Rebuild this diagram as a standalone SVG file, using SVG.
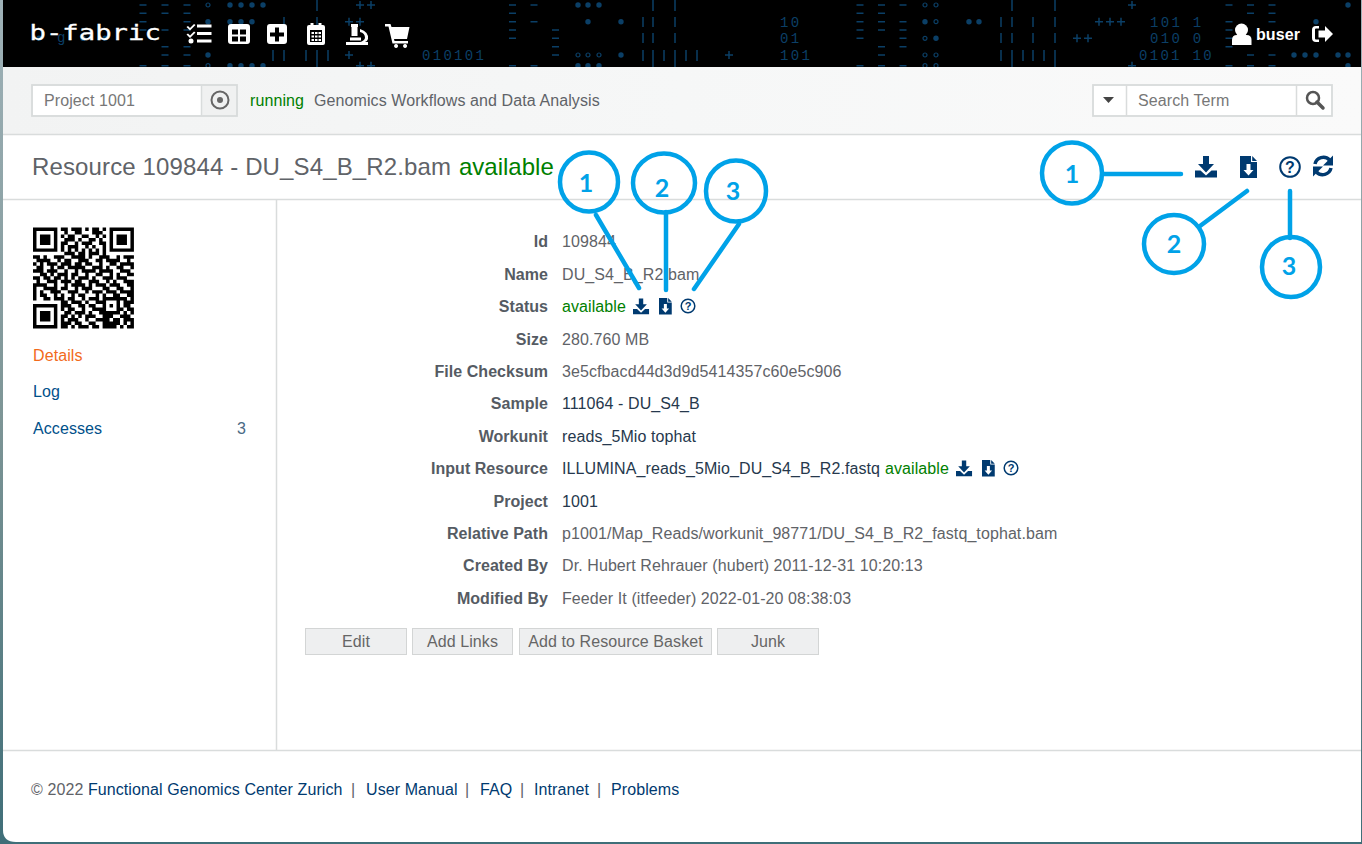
<svg xmlns="http://www.w3.org/2000/svg" width="1362" height="844" viewBox="0 0 1362 844">
<style>
text{font-family:"Liberation Sans",Arial,sans-serif;font-size:16px;fill:#5f6368;letter-spacing:.09px}
.b{font-weight:700;fill:#555b63;text-anchor:end;letter-spacing:.04px}
.g{fill:#008000}
.l{fill:#003a70}
.d{fill:#26384d}
.ln{stroke:#d9dcdc;stroke-width:1.5;fill:none}
.bx{fill:#fff;stroke:#d8dbdb;stroke-width:1.800}
.btn{fill:#eeeff0;stroke:#d3d5d5;stroke-width:1}
.bt{text-anchor:middle;fill:#666}
.c{fill:none;stroke:#00a2e8;stroke-width:4.5}
.n{font-family:Lato,"Open Sans",sans-serif;font-weight:700;font-size:25px;fill:#00a2e8;text-anchor:middle;letter-spacing:0}
.cl{stroke:#00a2e8;stroke-width:4.5;stroke-linecap:round;fill:none}
.bg{font-family:"Liberation Mono",monospace;font-size:14px;letter-spacing:2.300px;fill:#0b3f66}
.dash{stroke:#0b3f66;stroke-width:1.500;fill:none}
.w{fill:#fff}
.nv{fill:#003a70}
.o{fill:none;stroke:#0b3f66;stroke-width:1.200}
.f{fill:#0b3f66}
</style>
<defs>
<linearGradient id="edge" x1="0" y1="0" x2="0" y2="1"><stop offset="0" stop-color="#9fb2b8"/><stop offset=".5" stop-color="#7d9596"/><stop offset="1" stop-color="#3f6e78"/></linearGradient>
<linearGradient id="bar" x1="0" y1="0" x2="1" y2="0"><stop offset="0" stop-color="#f2f3f3"/><stop offset=".5" stop-color="#f6f7f7"/><stop offset="1" stop-color="#fafafa"/></linearGradient>
<g id="dl"><path d="M8 0h6v8h5l-8 8.500-8-8.500h5zM0 14.500h5.500l5.500 5 5.500-5H22v7H0z"/></g>
<g id="fl"><path fill-rule="evenodd" d="M0 0h11v6h6v16H0zM12.200 0l4.800 5h-4.800zM6.500 8v6H3.500l5 5.500 5-5.500h-3v-6z"/></g>
<circle id="fd" r="2.700"/>
<circle id="od" r="2"/>
</defs>
<rect width="1362" height="844" fill="url(#edge)"/>
<path d="M3 67H1361V842H16Q3 842 3 830z" fill="#fff"/>
<g id="header">
<rect x="3" y="0" width="1358" height="67" fill="#000"/>
<path class="dash" d="M139.500 5h7M161.500 5h7M183.500 5h7M139.500 13.300h7M161.500 13.300h7M183.500 13.300h7M139.500 21.700h7M183.500 21.700h7M139.500 30h7M161.500 30h7M183.500 30h7M161.500 46.700h7M183.500 46.700h7M161.500 55h7M183.500 55h7M139.500 65.700h7M161.500 65.700h7M183.500 65.700h7
M509 5h7M530.500 5h7M509 13.300h7M509 21.700h7M530.500 21.700h7M509 30h7M552 30h7M509 38.300h7M552 38.300h7M552 46.700h7M552 55h7M509 65.700h7M530.500 65.700h7
M856.500 5h7M878 5h7M899.500 5h7M856.500 13.300h7M878 13.300h7M856.500 21.700h7M878 21.700h7M899.500 21.700h7M856.500 30h7M878 30h7M899.500 30h7M856.500 38.300h7M899.500 38.300h7M878 46.700h7M899.500 46.700h7M878 55h7M856.500 65.700h7M878 65.700h7M899.500 65.700h7
M1225.500 5h7M1247 5h7M1268.500 5h7M1247 13.300h7M1268.500 13.300h7M1225.500 21.700h7M1268.500 21.700h7M1225.500 30h7M1225.500 38.300h7M1225.500 46.700h7M1247 55h7M1268.500 55h7M1225.500 65.700h7M1247 65.700h7M1268.500 65.700h7"/>
<path class="dash" d="M317 0v11M284 17v10M317 17v10M273 50v11M284 50v11M306 50v11M317 50v11M328 50v11M317 61v6
M653 0v11M675 0v11M643 17v10M653 17v10M675 17v10M643 33v10M653 33v10M675 33v10M643 50v11M653 50v11M664 50v11M675 50v11M653 61v6M675 61v6
M686 50v11M697 50v11M1012 0v11M1001 17v10M1012 17v10M1001 33v10M1012 33v10M1001 50v11M1012 50v11M1012 61v6
M1033 17v10M1055 0v11M1055 17v10M1033 33v10M1055 33v10M1023 50v11M1033 50v11M1044 50v11M1055 50v11M1055 61v6
M356 5h8M360 1v8M367 5h8M371 1v8M345 21.700h8M349 17.700v8M356 21.700h8M360 17.700v8M345 55h8M349 51v8M356 65.700h8M360 61.700v5.300M367 65.700h8M371 61.700v5.300
M725 55h8M729 51v8M1128 5h8M1132 1v8M1095 21.700h8M1099 17.700v8M1106 21.700h8M1110 17.700v8M1117 21.700h8M1121 17.700v8M1073 38.300h8M1077 34.300v8M1084 38.300h8M1088 34.300v8M1128 65.700h8M1132 61.700v5.300"/>
<g class="f">
<use href="#fd" x="230" y="5"/><use href="#fd" x="241" y="5"/><use href="#fd" x="252" y="5"/><use href="#fd" x="263" y="5"/>
<use href="#fd" x="208" y="21.700"/><use href="#fd" x="230" y="21.700"/><use href="#fd" x="241" y="21.700"/><use href="#fd" x="252" y="21.700"/>
<use href="#fd" x="208" y="55"/><use href="#fd" x="230" y="65.700"/><use href="#fd" x="241" y="65.700"/><use href="#fd" x="252" y="65.700"/><use href="#fd" x="263" y="65.700"/>
<use href="#fd" x="83" y="38.300"/><use href="#fd" x="105" y="38.300"/><use href="#fd" x="39" y="38.300"/>
<use href="#fd" x="578" y="5"/><use href="#fd" x="588" y="5"/><use href="#fd" x="599" y="5"/><use href="#fd" x="588" y="21.700"/><use href="#fd" x="621" y="21.700"/><use href="#fd" x="621" y="55"/>
<use href="#fd" x="578" y="65.700"/><use href="#fd" x="588" y="65.700"/><use href="#fd" x="599" y="65.700"/>
<use href="#fd" x="925" y="21.700"/><use href="#fd" x="936" y="38.300"/><use href="#fd" x="969" y="21.700"/><use href="#fd" x="979" y="21.700"/>
<use href="#fd" x="1348" y="5"/><use href="#fd" x="1316" y="21.700"/><use href="#fd" x="1294" y="55"/><use href="#fd" x="1305" y="55"/><use href="#fd" x="1316" y="55"/><use href="#fd" x="1338" y="55"/><use href="#fd" x="1348" y="55"/><use href="#fd" x="1348" y="65.700"/>
</g>
<g class="o">
<use href="#od" x="208" y="5"/><use href="#od" x="208" y="65.700"/>
<use href="#od" x="578" y="55"/><use href="#od" x="588" y="55"/><use href="#od" x="599" y="55"/>
<use href="#od" x="925" y="5"/><use href="#od" x="936" y="5"/><use href="#od" x="936" y="21.700"/><use href="#od" x="925" y="38.300"/><use href="#od" x="925" y="55"/><use href="#od" x="936" y="55"/><use href="#od" x="925" y="65.700"/><use href="#od" x="936" y="65.700"/>
</g>
<text class="bg" x="422" y="59.500">010101</text>
<text class="bg" x="780" y="26.500">10</text>
<text class="bg" x="780" y="43">01</text>
<text class="bg" x="780" y="59.500">101</text>
<text class="bg" x="1150" y="26.500">101 1</text>
<text class="bg" x="1150" y="43">010 0</text>
<text class="bg" x="1139" y="59.500">0101 10</text>
<text class="bg" x="57" y="42">g</text>
<text transform="translate(29.500 39.500) scale(1.240 1)" style="font-family:'DejaVu Sans Mono',monospace;font-size:22px;letter-spacing:0;fill:#fff;stroke:#fff;stroke-width:.3">b-fabric</text>
<g id="nav-icons" class="w">
<path d="M197 24.500h14.500v3h-14.500zM197 32h14.500v3h-14.500zM197 39.500h14.500v3h-14.500zM188 26l2 2 4-4 1.500 1-5.500 5.500-3.500-3.500zM188 33.500l2 2 4-4 1.500 1-5.500 5.500-3.500-3.500z"/><circle cx="191" cy="41" r="2.500"/>
<path fill-rule="evenodd" d="M231 24h16q3 0 3 3v14q0 3-3 3h-16q-3 0-3-3v-14q0-3 3-3zM232 29.500v5h6v-5zM240 29.500v5h6v-5zM232 36.500v5h6v-5zM240 36.500v5h6v-5z"/>
<path fill-rule="evenodd" d="M270 24h14q3 0 3 3v14q0 3-3 3h-14q-3 0-3-3v-14q0-3 3-3zM275 27.500v5h-5v4h5v5h4v-5h5v-4h-5v-5z"/>
<path fill-rule="evenodd" d="M309 25h1.500v-2h3v2h5v-2h3v2h1.500q2 0 2 2v16q0 2-2 2h-14q-2 0-2-2v-16q0-2 2-2zM310 30v12h12v-12zM311.500 32h2.500v2h-2.500zM315 32h2.500v2h-2.500zM318.500 32h2.500v2h-2.500zM311.500 35.500h2.500v2h-2.500zM315 35.500h2.500v2h-2.500zM318.500 35.500h2.500v2h-2.500zM311.500 39h2.500v2h-2.500zM315 39h2.500v2h-2.500zM318.500 39h2.500v2h-2.500z"/>
<path d="M346 42h22v3h-22zM351 24h7v3h-.500v9h-6v-9h-.500zM360 29q9 3 8 10q-1 3-3 3h-5q4-1 5-4q0-5-5-6zM350 37.500h11v3h-11z"/>
<path d="M385 24h5.500l1 3h18l-2.500 12h-13l.5 2h13.500v2.500h-15.500l-4-17h-3.500zM396 44a2 2 0 1 0 .1 0zM405 44a2 2 0 1 0 .1 0z"/>
</g>
<g id="user">
<circle class="w" cx="1241.500" cy="30" r="6.500"/>
<path class="w" d="M1232 45v-5q0-5 5-5h9.500q5 0 5 5v5z"/>
<text x="1256" y="40" style="font-weight:700;fill:#fff">buser</text>
<path class="w" fill-rule="evenodd" d="M1319 26v2.500h-3q-1 0-1 1v9q0 1 1 1h3v2.500h-3q-4 0-4-4v-8q0-4 4-4zM1325 26l8 8-8 8v-4.500h-6.500v-7h6.500z"/>
</g>
</g>
<g id="toolbar">
<rect x="3" y="67" width="1358" height="67" fill="url(#bar)"/>
<path class="ln" d="M3 134.500H1361"/>
<g id="project-select">
<rect class="bx" x="32" y="85" width="205" height="31" style="fill:#f0f1f1"/>
<rect x="33" y="86" width="168" height="29" fill="#fff"/>
<path class="ln" d="M201.500 85v31"/>
<text x="44" y="106" style="fill:#777">Project 1001</text>
<circle cx="220" cy="100" r="8.500" fill="none" stroke="#666" stroke-width="2"/><circle cx="220" cy="100" r="3" fill="#666"/>
</g>
<text class="g" x="250" y="106">running</text>
<text x="314" y="106">Genomics Workflows and Data Analysis</text>
<g id="search">
<rect class="bx" x="1093" y="85" width="239" height="31"/>
<path class="ln" d="M1126.500 85v31M1296.500 85v31"/>
<path d="M1103 97h11l-5.500 6z" fill="#444"/>
<text x="1138" y="106" style="fill:#777">Search Term</text>
<circle cx="1313" cy="98" r="6" fill="none" stroke="#555" stroke-width="2.500"/><path d="M1317 102l6 6" stroke="#555" stroke-width="3.500" stroke-linecap="round"/>
</g>
</g>
<g id="title">
<text x="32" y="175" style="font-size:24px;letter-spacing:.13px">Resource 109844 - DU_S4_B_R2.bam</text>
<text class="g" x="459" y="175" style="font-size:24px;letter-spacing:0">available</text>
<path class="ln" d="M3 199.500H1361"/>
<g id="title-icons" class="nv">
<use href="#dl" x="1195" y="156"/>
<use href="#fl" x="1240" y="156"/>
<circle cx="1290" cy="167" r="9.800" fill="none" stroke="#003a70" stroke-width="2"/>
<text x="1290" y="173" text-anchor="middle" style="font-size:16px;font-weight:700;fill:#003a70;letter-spacing:0">?</text>
<path d="M1315 164a8.500 8.500 0 0 1 14.500-4" fill="none" stroke="#003a70" stroke-width="3.500"/><path d="M1333 155.500v10h-10z"/>
<path d="M1331 168a8.500 8.500 0 0 1-14.500 4" fill="none" stroke="#003a70" stroke-width="3.500"/><path d="M1313 176.500v-10h10z"/>
</g>
</g>
<g id="sidebar">
<path class="ln" d="M276.500 199v551"/>
<g transform="translate(33 227.500) scale(3.480)"><path stroke="#000" stroke-width="1" fill="none" d="M0 .5h7M8 .5h2M11 .5h3M15 .5h1M17 .5h2M20 .5h1M22 .5h7
M0 1.500h1M6 1.500h1M9 1.500h1M12 1.500h2M17 1.500h3M22 1.500h1M28 1.500h1
M0 2.500h1M2 2.500h3M6 2.500h1M8 2.500h1M10 2.500h2M14 2.500h2M18 2.500h1M20 2.500h1M22 2.500h1M24 2.500h3M28 2.500h1
M0 3.500h1M2 3.500h3M6 3.500h1M9 3.500h3M13 3.500h1M16 3.500h2M19 3.500h1M22 3.500h1M24 3.500h3M28 3.500h1
M0 4.500h1M2 4.500h3M6 4.500h1M8 4.500h2M12 4.500h1M14 4.500h3M19 4.500h2M22 4.500h1M24 4.500h3M28 4.500h1
M0 5.500h1M6 5.500h1M8 5.500h1M10 5.500h3M15 5.500h1M17 5.500h1M20 5.500h1M22 5.500h1M28 5.500h1
M0 6.500h7M8 6.500h1M10 6.500h1M12 6.500h1M14 6.500h1M16 6.500h1M18 6.500h1M20 6.500h1M22 6.500h7
M9 7.500h3M13 7.500h2M16 7.500h3M20 7.500h1
M0 8.500h2M3 8.500h1M6 8.500h3M11 8.500h4M16 8.500h1M19 8.500h3M24 8.500h1M26 8.500h3
M1 9.500h4M7 9.500h1M9 9.500h2M13 9.500h3M18 9.500h2M21 9.500h4M27 9.500h1
M0 10.500h1M2 10.500h1M4 10.500h3M8 10.500h3M12 10.500h2M15 10.500h2M19 10.500h1M22 10.500h2M25 10.500h4
M1 11.500h2M5 11.500h1M7 11.500h2M10 11.500h5M17 11.500h3M21 11.500h1M24 11.500h2M28 11.500h1
M0 12.500h3M4 12.500h3M9 12.500h1M12 12.500h1M14 12.500h4M19 12.500h4M25 12.500h3
M2 13.500h2M5 13.500h1M7 13.500h3M11 13.500h2M15 13.500h1M18 13.500h2M22 13.500h1M24 13.500h1M27 13.500h2
M0 14.500h2M3 14.500h2M6 14.500h2M9 14.500h1M11 14.500h1M13 14.500h3M17 14.500h1M20 14.500h3M24 14.500h3
M1 15.500h1M4 15.500h3M8 15.500h3M12 15.500h2M16 15.500h3M21 15.500h1M23 15.500h1M26 15.500h3
M0 16.500h4M6 16.500h1M9 16.500h1M11 16.500h4M16 16.500h1M18 16.500h3M22 16.500h3M27 16.500h2
M0 17.500h1M3 17.500h4M8 17.500h2M12 17.500h1M14 17.500h3M20 17.500h2M24 17.500h2M28 17.500h1
M0 18.500h1M2 18.500h1M5 18.500h3M10 18.500h3M15 18.500h1M17 18.500h3M21 18.500h3M25 18.500h4
M0 19.500h1M2 19.500h2M6 19.500h1M8 19.500h1M11 19.500h1M13 19.500h2M18 19.500h1M20 19.500h1M23 19.500h2M27 19.500h2
M0 20.500h1M3 20.500h2M6 20.500h3M10 20.500h2M14 20.500h1M16 20.500h3M20 20.500h7M28 20.500h1
M8 21.500h2M11 21.500h3M15 21.500h1M18 21.500h2M20 21.500h1M24 21.500h1M26 21.500h3
M0 22.500h7M8 22.500h3M13 22.500h2M16 22.500h2M20 22.500h1M22 22.500h1M24 22.500h1M26 22.500h2
M0 23.500h1M6 23.500h1M8 23.500h1M10 23.500h2M14 23.500h1M17 23.500h3M20 23.500h1M24 23.500h2M27 23.500h2
M0 24.500h1M2 24.500h3M6 24.500h1M9 24.500h2M12 24.500h3M16 24.500h1M19 24.500h6M26 24.500h1M28 24.500h1
M0 25.500h1M2 25.500h3M6 25.500h1M8 25.500h2M11 25.500h1M13 25.500h1M15 25.500h3M20 25.500h3M25 25.500h3
M0 26.500h1M2 26.500h3M6 26.500h1M8 26.500h1M10 26.500h3M15 26.500h1M18 26.500h4M23 26.500h2M26 26.500h3
M0 27.500h1M6 27.500h1M8 27.500h3M12 27.500h2M16 27.500h2M20 27.500h5M26 27.500h1M28 27.500h1
M0 28.500h7M8 28.500h2M11 28.500h1M13 28.500h3M17 28.500h2M20 28.500h4M25 28.500h1M27 28.500h2"/></g>
<text x="33" y="361" style="fill:#f26a1b">Details</text>
<text x="33" y="397" style="fill:#00508a">Log</text>
<text x="33" y="434" style="fill:#00508a">Accesses</text>
<text x="237" y="434" style="fill:#4a6a85">3</text>
</g>
<g id="details">
<text class="b" x="548" y="247">Id</text><text x="562" y="247">109844</text>
<text class="b" x="548" y="280">Name</text><text x="562" y="280">DU_S4_B_R2.bam</text>
<text class="b" x="548" y="312">Status</text><text class="g" x="562" y="312">available</text>
<text class="b" x="548" y="345">Size</text><text x="562" y="345">280.760 MB</text>
<text class="b" x="548" y="377">File Checksum</text><text x="562" y="377">3e5cfbacd44d3d9d5414357c60e5c906</text>
<text class="b" x="548" y="409">Sample</text><text class="d" x="562" y="409">111064 - DU_S4_B</text>
<text class="b" x="548" y="442">Workunit</text><text class="d" x="562" y="442">reads_5Mio tophat</text>
<text class="b" x="548" y="474">Input Resource</text><text class="d" x="562" y="474">ILLUMINA_reads_5Mio_DU_S4_B_R2.fastq</text><text class="g" x="885" y="474">available</text>
<text class="b" x="548" y="507">Project</text><text class="d" x="562" y="507">1001</text>
<text class="b" x="548" y="539">Relative Path</text><text x="562" y="539">p1001/Map_Reads/workunit_98771/DU_S4_B_R2_fastq_tophat.bam</text>
<text class="b" x="548" y="571">Created By</text><text x="562" y="571">Dr. Hubert Rehrauer (hubert) 2011-12-31 10:20:13</text>
<text class="b" x="548" y="604">Modified By</text><text x="562" y="604">Feeder It (itfeeder) 2022-01-20 08:38:03</text>
<g id="status-icons" class="nv">
<use href="#dl" transform="translate(633 298.500) scale(.73)"/>
<use href="#fl" transform="translate(659 298) scale(.75)"/>
<circle cx="688" cy="306" r="6.800" fill="none" stroke="#003a70" stroke-width="1.500"/>
<text x="688" y="310" text-anchor="middle" style="font-size:11px;font-weight:700;fill:#003a70;letter-spacing:0">?</text>
</g>
<g id="input-icons" class="nv">
<use href="#dl" transform="translate(956 460.500) scale(.73)"/>
<use href="#fl" transform="translate(982 460) scale(.75)"/>
<circle cx="1011" cy="468" r="6.800" fill="none" stroke="#003a70" stroke-width="1.500"/>
<text x="1011" y="472" text-anchor="middle" style="font-size:11px;font-weight:700;fill:#003a70;letter-spacing:0">?</text>
</g>
<g id="buttons">
<rect class="btn" x="305.500" y="628.500" width="101" height="26"/><text class="bt" x="356" y="647">Edit</text>
<rect class="btn" x="412.500" y="628.500" width="100" height="26"/><text class="bt" x="462.500" y="647">Add Links</text>
<rect class="btn" x="519.500" y="628.500" width="192" height="26"/><text class="bt" x="615.500" y="647">Add to Resource Basket</text>
<rect class="btn" x="717.500" y="628.500" width="101" height="26"/><text class="bt" x="768" y="647">Junk</text>
</g>
</g>
<g id="footer">
<path class="ln" d="M3 750.500H1361"/>
<text x="31" y="795">© 2022 <tspan class="l">Functional Genomics Center Zurich</tspan></text>
<text x="351" y="795">|</text><text class="l" x="366" y="795">User Manual</text>
<text x="465" y="795">|</text><text class="l" x="480" y="795">FAQ</text>
<text x="520" y="795">|</text><text class="l" x="534" y="795">Intranet</text>
<text x="597" y="795">|</text><text class="l" x="611" y="795">Problems</text>
</g>
<g id="connectors">
<path class="cl" d="M596 215L639 288M666 212V290M739 224L694 289M1104 174H1181M1200 226L1247 191M1290 191V238"/>
</g>
<g id="callout-left-1"><ellipse class="c" cx="589" cy="182" rx="29" ry="29.500"/><text class="n" x="586" y="192">1</text></g>
<g id="callout-left-2"><ellipse class="c" cx="664" cy="183" rx="31" ry="29.500"/><text class="n" x="662" y="197">2</text></g>
<g id="callout-left-3"><ellipse class="c" cx="736" cy="191" rx="30" ry="30.500"/><text class="n" x="733" y="200">3</text></g>
<g id="callout-right-1"><ellipse class="c" cx="1072" cy="173" rx="30" ry="30.500"/><text class="n" x="1072" y="183">1</text></g>
<g id="callout-right-2"><ellipse class="c" cx="1174" cy="244" rx="30" ry="29"/><text class="n" x="1174" y="253">2</text></g>
<g id="callout-right-3"><ellipse class="c" cx="1291" cy="267" rx="29" ry="30"/><text class="n" x="1289" y="275">3</text></g>
</svg>
